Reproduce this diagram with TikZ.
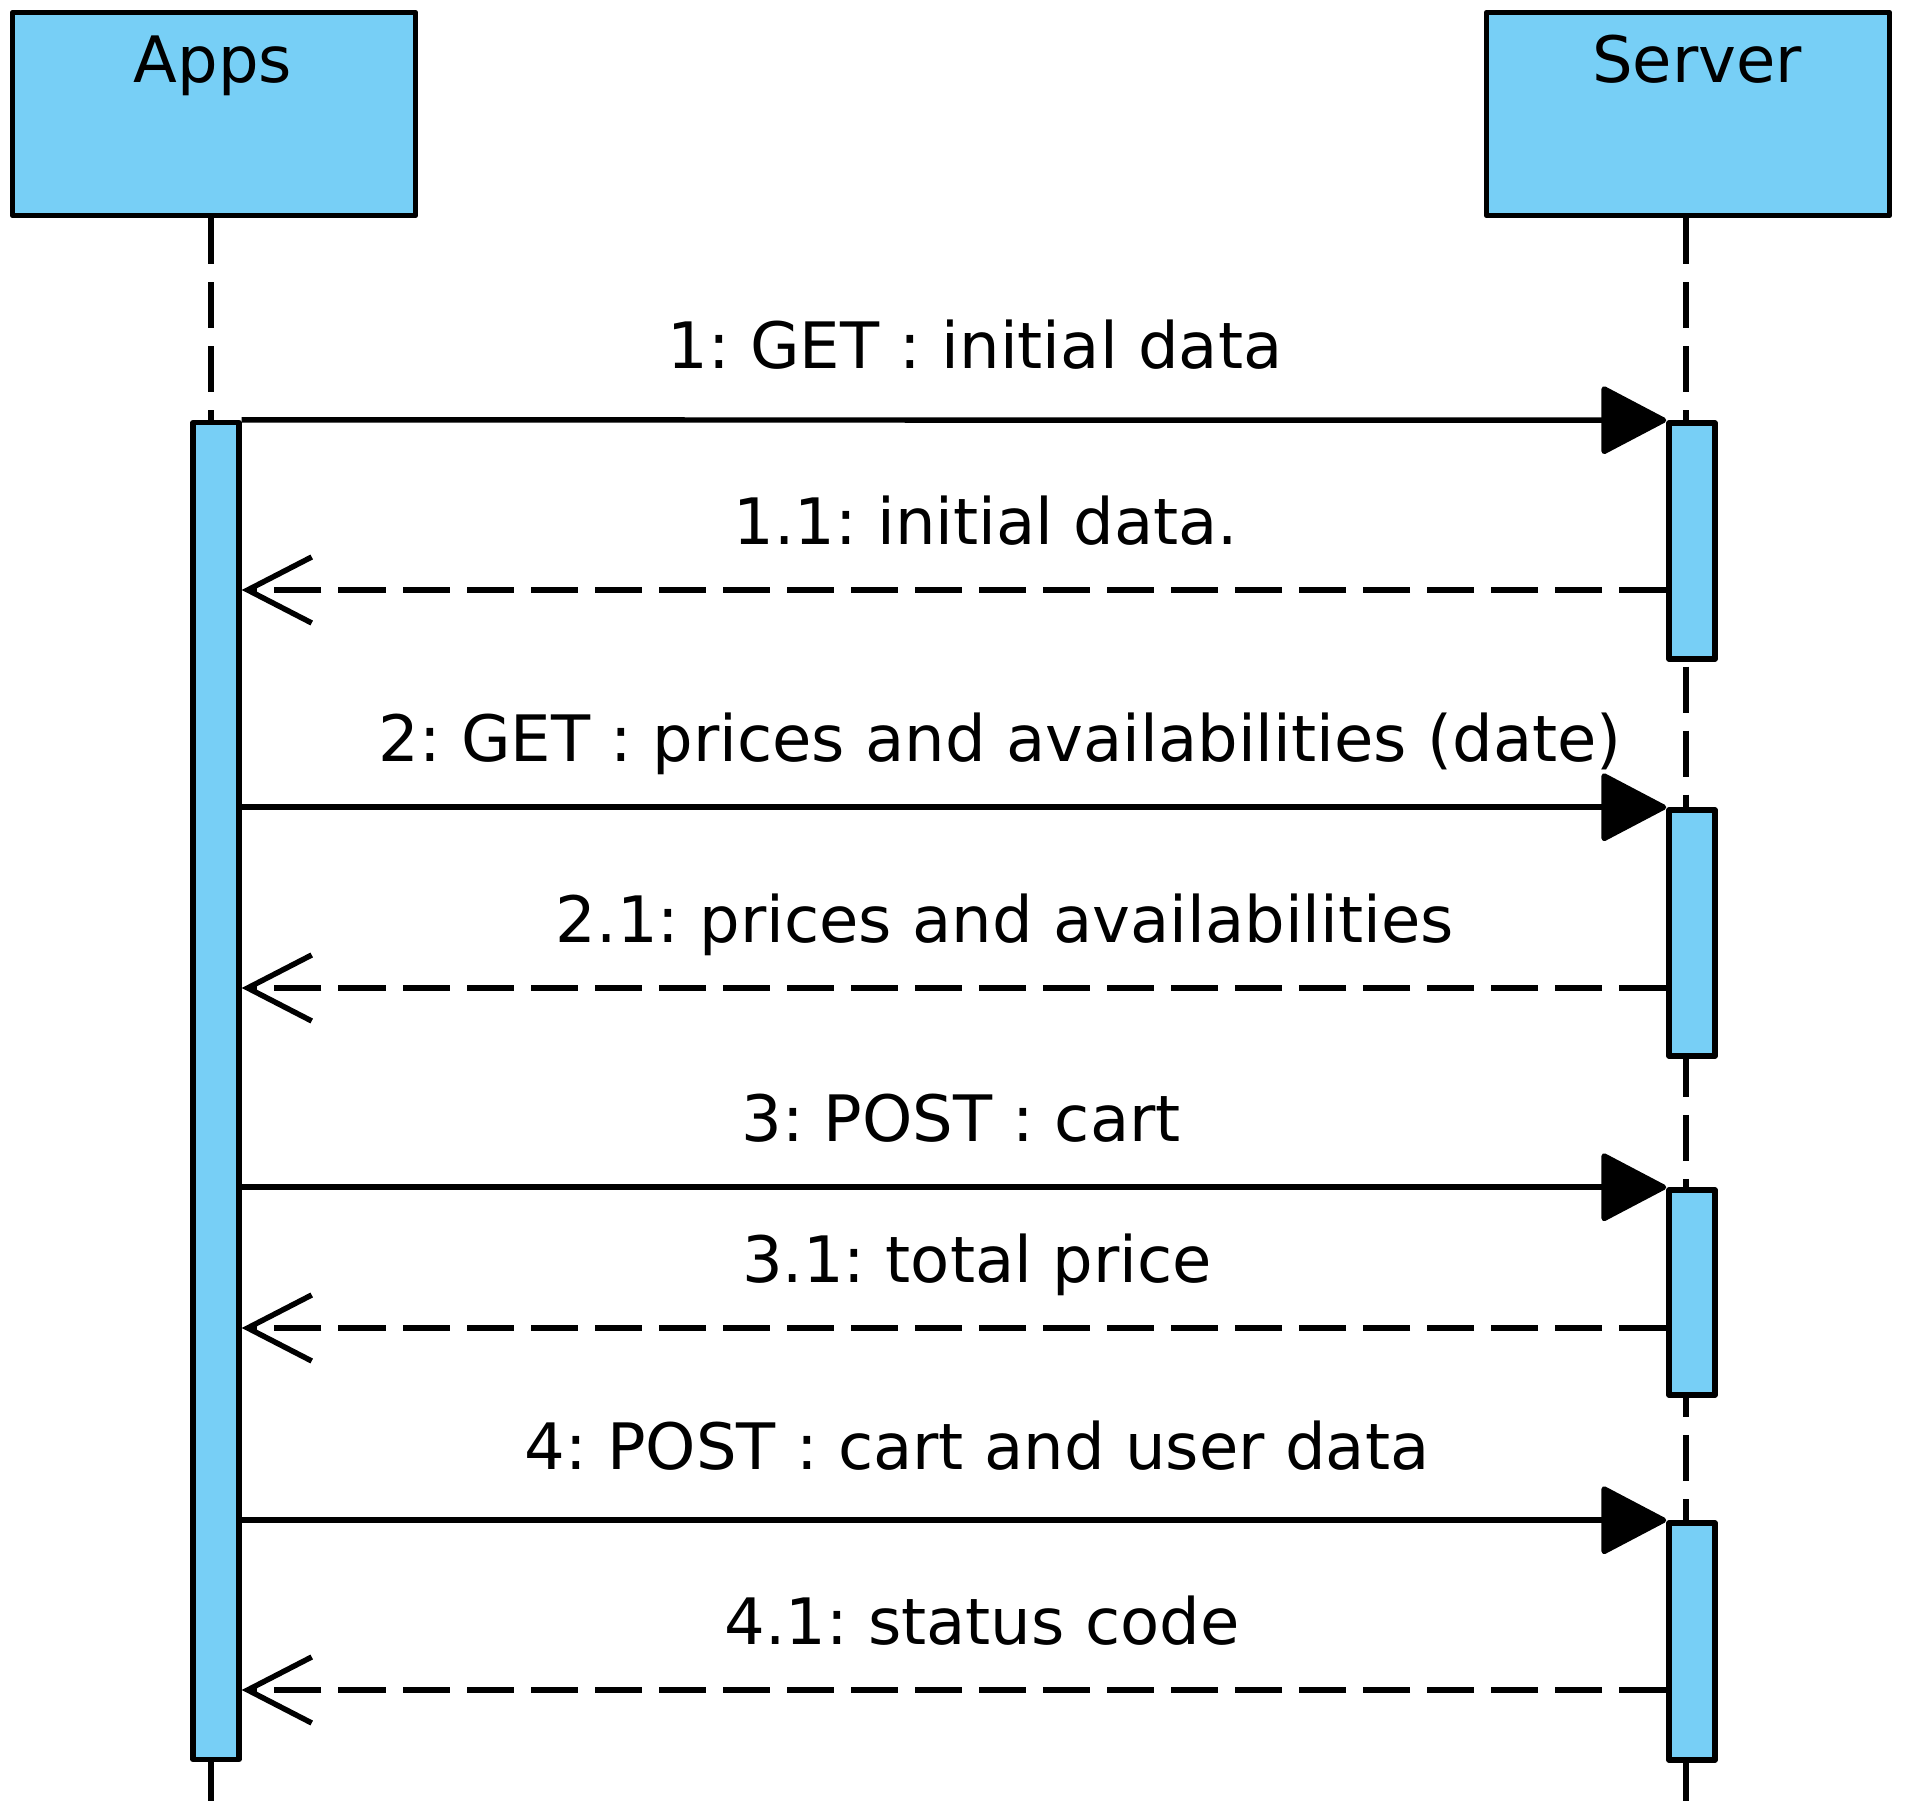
\documentclass[tikz,border=0pt]{standalone}
\usepackage{fontspec}
\setmainfont{DejaVu Sans}
\usetikzlibrary{arrows.meta}
\definecolor{actfill}{RGB}{119,207,246}
\frenchspacing
\begin{document}
\begin{tikzpicture}[x=0.01cm,y=-0.01cm,
  lw/.style={line width=1.55pt},
  actorbox/.style={draw,lw,fill=actfill,rectangle,inner sep=0pt,minimum width=4.03cm,minimum height=2.03cm,line join=round},
  actbar/.style={draw,lw,fill=actfill,rectangle,inner sep=0pt,minimum width=0.46cm,line join=round},
  life/.style={lw,dash pattern=on 0.46cm off 0.18cm},
  callmsg/.style={lw,-{Triangle[length=0.68cm,width=0.70cm,round]}},
  retmsg/.style={lw,dash pattern=on 0.47cm off 0.17cm,-{Straight Barb[length=0.64cm,width=0.66cm]}},
  txt/.style={inner sep=0pt,anchor=base,font=\fontsize{18.2pt}{22pt}\selectfont}
]
\useasboundingbox (0,0) rectangle (1920,1804);

% actors
\node[actorbox] (apps) at (214,114) {};
\node[actorbox] (server) at (1688,114) {};
\node[txt] (appst) at (213,83) {Apps};
\node[txt] (servert) at (1697,83) {Server};

% lifeline ends
\coordinate (appsend) at (211,1804);
\coordinate (serverend) at (1686,1804);
\draw[life] (apps.south -| appsend) -- (appsend);
\draw[life] (server.south -| serverend) -- (serverend);

% activations
\node[actbar,minimum height=13.36cm] (aact) at (216,1091) {};
\node[actbar,minimum height=2.36cm] (s1) at (1692,541) {};
\node[actbar,minimum height=2.46cm] (s2) at (1692,933) {};
\node[actbar,minimum height=2.05cm] (s3) at (1692,1292.5) {};
\node[actbar,minimum height=2.37cm] (s4) at (1692,1641.5) {};

% message rows
\coordinate (y11) at (0,590);
\coordinate (y21) at (0,988);
\coordinate (y31) at (0,1328);
\coordinate (y41) at (0,1690);

\draw[callmsg] (aact.north east) -- (s1.north west);
\draw[retmsg] (s1.west |- y11) -- (aact.east |- y11);
\draw[callmsg] (aact.east |- s2.north) -- (s2.north west);
\draw[retmsg] (s2.west |- y21) -- (aact.east |- y21);
\draw[callmsg] (aact.east |- s3.north) -- (s3.north west);
\draw[retmsg] (s3.west |- y31) -- (aact.east |- y31);
\draw[callmsg] (aact.east |- s4.north) -- (s4.north west);
\draw[retmsg] (s4.west |- y41) -- (aact.east |- y41);

% labels
\node[txt] (l1) at (975,369) {1: GET : initial data};
\node[txt] (l11) at (986,545) {1.1: initial data.};
\node[txt] (l2) at (1000,762) {2: GET : prices and availabilities (date)};
\node[txt] (l21) at (1005,943) {2.1: prices and availabilities};
\node[txt] (l3) at (961,1142) {3: POST : cart};
\node[txt] (l31) at (977,1283) {3.1: total price};
\node[txt] (l4) at (977,1470) {4: POST : cart and user data};
\node[txt] (l41) at (982,1645) {4.1: status code};
\end{tikzpicture}
\end{document}
